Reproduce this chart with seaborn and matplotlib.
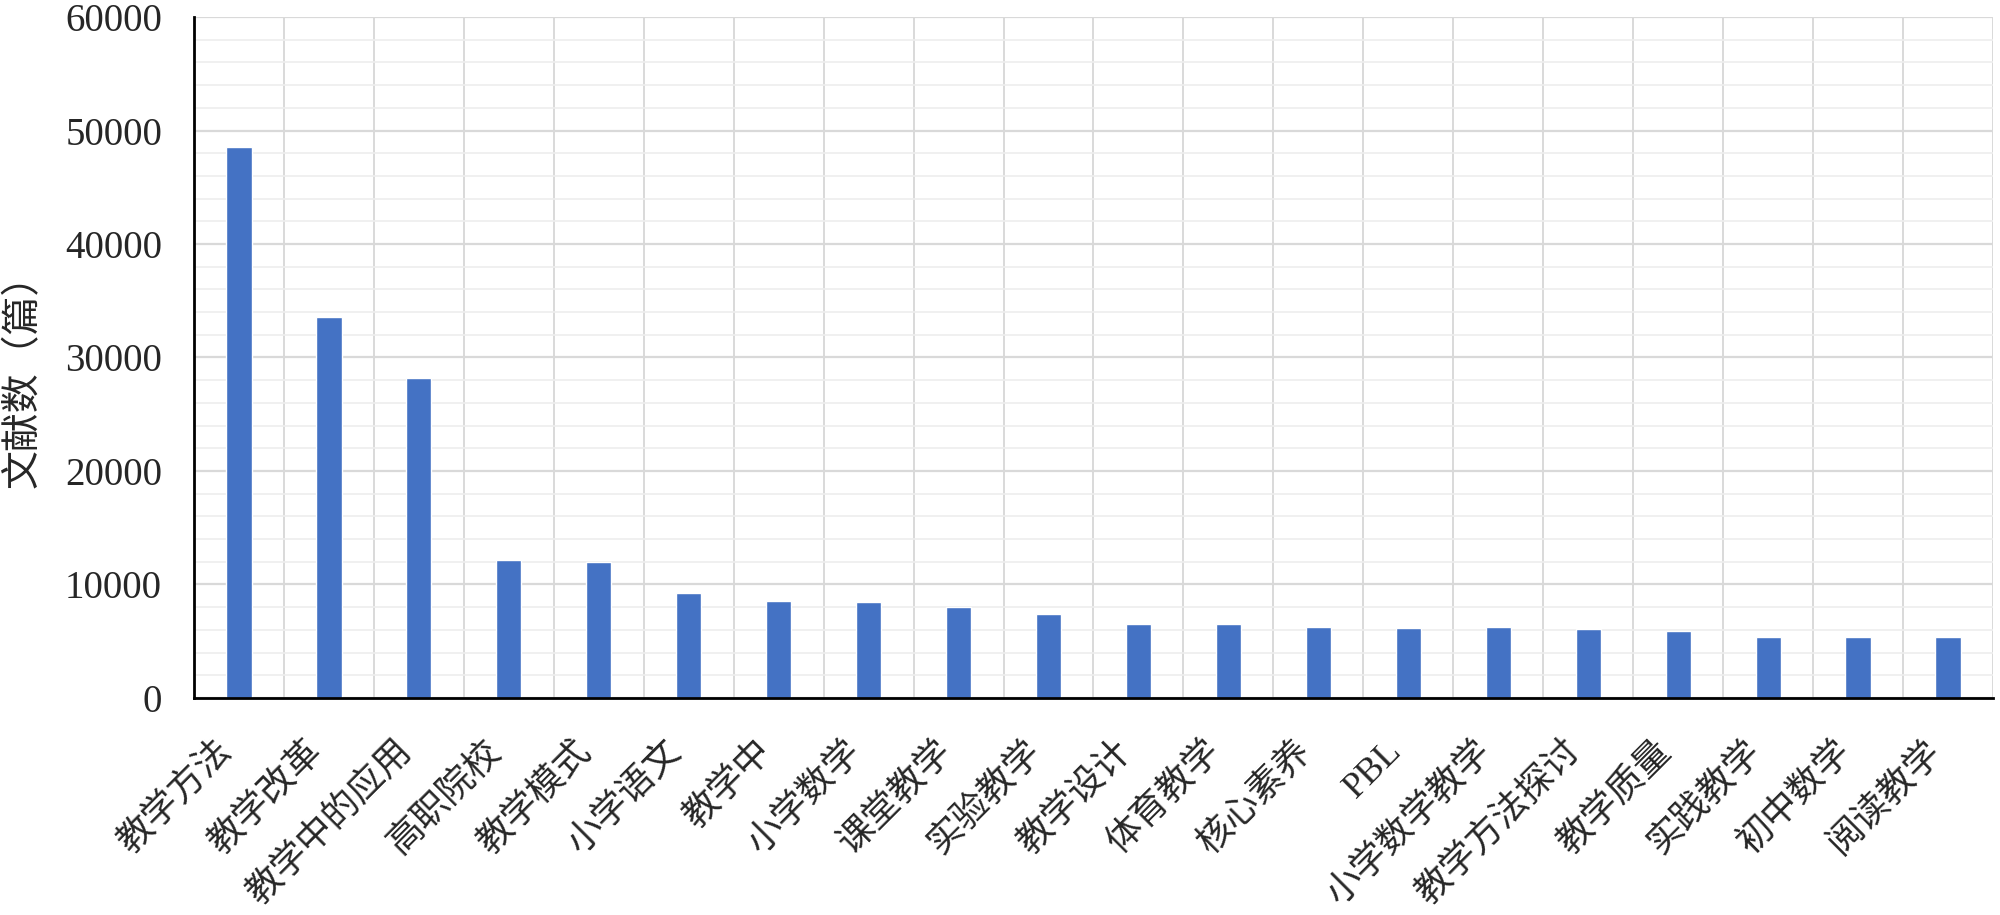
import numpy as np
import pandas as pd
import seaborn as sns
import matplotlib.pyplot as plt
from matplotlib.ticker import MultipleLocator, FixedLocator

# Data
categories = ['教学方法', '教学改革', '教学中的应用', '高职院校', '教学模式', '小学语文',
              '教学中', '小学数学', '课堂教学', '实验教学', '教学设计', '体育教学',
              '核心素养', 'PBL', '小学数学教学', '教学方法探讨', '教学质量', '实践教学',
              '初中数学', '阅读教学']
counts = [48550, 33550, 28220, 12130, 11960, 9220, 8550, 8490, 8050, 7400,
          6550, 6550, 6280, 6200, 6210, 6110, 5870, 5350, 5350, 5350]
y_label = '文献数（篇）'

df = pd.DataFrame({'keyword': categories, 'count': counts})

sns.set_style('white')
plt.rcParams['font.family'] = ['Liberation Serif', 'Noto Sans CJK SC', 'DejaVu Sans']

fig = plt.figure(figsize=(20, 9.15), dpi=100)
ax = fig.add_axes([0.097, 0.2372, 0.8995, 0.7442])

sns.barplot(data=df, x='keyword', y='count', color='#4472C4', saturation=1,
            width=0.28, ax=ax, zorder=3)

ax.set_xlim(-0.5, len(categories) - 0.5)
ax.set_ylim(0, 60000)

# y grid: major every 10000, minor every 2000
ax.yaxis.set_major_locator(MultipleLocator(10000))
ax.yaxis.set_minor_locator(MultipleLocator(2000))
ax.grid(axis='y', which='major', color='#d9d9d9', linewidth=1.6, zorder=0)
ax.grid(axis='y', which='minor', color='#eeeeee', linewidth=1.2, zorder=0)

# x ticks/grid sit on the category boundaries
ax.xaxis.set_minor_locator(FixedLocator(np.arange(-0.5, len(categories), 1.0)))
ax.grid(axis='x', which='minor', color='#d9d9d9', linewidth=1.4, zorder=0)
ax.tick_params(axis='x', which='major', length=0, pad=26, labelsize=26)
ax.tick_params(axis='x', which='minor', direction='out', length=10, width=1.4, color='black')
ax.tick_params(axis='y', which='major', direction='out', length=10, width=1.4,
               color='black', pad=13, labelsize=28)
ax.tick_params(axis='y', which='minor', length=0)

for lbl in ax.get_xticklabels():
    lbl.set_rotation(45)
    lbl.set_ha('right')
    lbl.set_va('top')

for side in ['top', 'right']:
    ax.spines[side].set_visible(False)
for side in ['left', 'bottom']:
    ax.spines[side].set_color('black')
    ax.spines[side].set_linewidth(2)
    ax.spines[side].set_zorder(4)

ax.set_xlabel('')
ax.set_ylabel(y_label, fontsize=28)
ax.yaxis.set_label_coords(-0.084, 0.48)

fig.savefig('out.png', dpi=100, facecolor='white')
